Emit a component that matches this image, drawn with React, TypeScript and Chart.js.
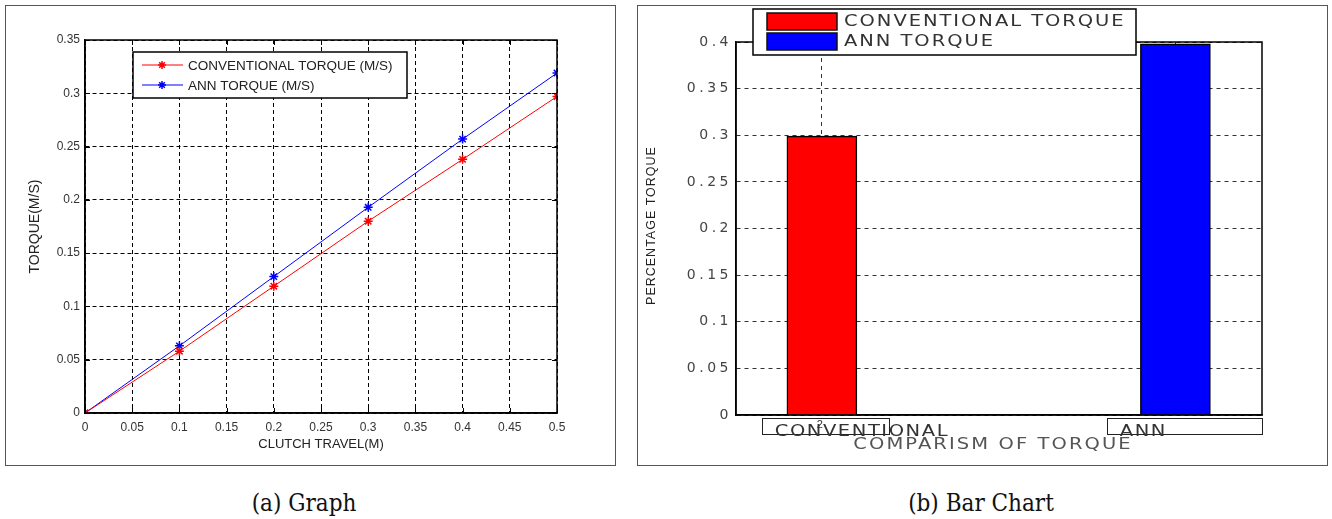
import React, { useEffect, useRef } from 'react';
import { Chart, registerables } from 'chart.js';

Chart.register(...registerables);

// ---------- (a) Graph data ----------
const clutchTravel = [0, 0.1, 0.2, 0.3, 0.4, 0.5];
const conventionalTorque = [0, 0.058, 0.119, 0.18, 0.238, 0.297];
const annTorque = [0, 0.063, 0.128, 0.193, 0.257, 0.319];
const lineSeriesLabels = ['CONVENTIONAL TORQUE (M/S)', 'ANN TORQUE (M/S)'];
const travelTicks = [0, 0.05, 0.1, 0.15, 0.2, 0.25, 0.3, 0.35, 0.4, 0.45, 0.5];
const torqueTicks = [0, 0.05, 0.1, 0.15, 0.2, 0.25, 0.3, 0.35];

// ---------- (b) Bar chart data ----------
const barCategories = ['CONVENTIONAL', 'ANN'];
const barValues = [0.299, 0.398];
const barSeriesLabels = ['CONVENTIONAL TORQUE', 'ANN TORQUE'];
const percentTicks = [0, 0.05, 0.1, 0.15, 0.2, 0.25, 0.3, 0.35, 0.4];
const barAxisTitles = ['COMPARISM OF TORQUE', 'PERCENTAGE TORQUE'];

const captions = ['(a) Graph', '(b) Bar Chart'];

const RED = '#ff0000';
const BLUE = '#0000ff';
const SANS = "'Liberation Sans', Arial, Helvetica, sans-serif";
const WIDE = "'DejaVu Sans', Verdana, sans-serif";

function fmt(v: number) {
  return String(Math.round(Number(v) * 100) / 100);
}

function drawStar(ctx: CanvasRenderingContext2D, x: number, y: number, r: number) {
  ctx.beginPath();
  for (let k = 0; k < 4; k++) {
    const ang = (k * Math.PI) / 4;
    ctx.moveTo(x - r * Math.cos(ang), y - r * Math.sin(ang));
    ctx.lineTo(x + r * Math.cos(ang), y + r * Math.sin(ang));
  }
  ctx.stroke();
}

// horizontally stretched text, like the stretched bitmap of the original figure
function wideText(ctx: CanvasRenderingContext2D, text: string, x: number, y: number, align: CanvasTextAlign, sx: number, ls: number) {
  ctx.save();
  ctx.translate(x, y);
  ctx.scale(sx, 1);
  (ctx as any).letterSpacing = `${ls}px`;
  ctx.textAlign = align;
  ctx.textBaseline = 'middle';
  ctx.fillText(text, 0, 0);
  ctx.restore();
}

const lineDecor = {
  id: 'lineDecor',
  afterDraw(chart: any) {
    const { ctx, chartArea: a, scales } = chart;
    const xs = scales.x;
    const ys = scales.y;
    ctx.save();
    ctx.setLineDash([]);
    ctx.strokeStyle = '#000';
    ctx.lineWidth = 1;
    ctx.beginPath();
    xs.ticks.forEach((t: any) => {
      const px = Math.round(xs.getPixelForValue(t.value)) + 0.5;
      ctx.moveTo(px, a.bottom);
      ctx.lineTo(px, a.bottom - 5);
      ctx.moveTo(px, a.top);
      ctx.lineTo(px, a.top + 5);
    });
    ys.ticks.forEach((t: any) => {
      const py = Math.round(ys.getPixelForValue(t.value)) + 0.5;
      ctx.moveTo(a.left, py);
      ctx.lineTo(a.left + 5, py);
      ctx.moveTo(a.right, py);
      ctx.lineTo(a.right - 5, py);
    });
    ctx.stroke();
    ctx.lineWidth = 1.5;
    ctx.strokeRect(Math.round(a.left), Math.round(a.top), Math.round(a.width), Math.round(a.height));

    // legend inside the plot
    const lx = Math.round(a.left) + 48;
    const ly = Math.round(a.top) + 12;
    const lw = 274;
    const lh = 46;
    ctx.fillStyle = '#fff';
    ctx.fillRect(lx, ly, lw, lh);
    ctx.lineWidth = 1.5;
    ctx.strokeStyle = '#000';
    ctx.strokeRect(lx, ly, lw, lh);
    chart.data.datasets.forEach((ds: any, i: number) => {
      const y = ly + 13 + i * 20;
      ctx.strokeStyle = ds.borderColor;
      ctx.lineWidth = 1;
      ctx.beginPath();
      ctx.moveTo(lx + 9, y);
      ctx.lineTo(lx + 50, y);
      ctx.stroke();
      ctx.lineWidth = 1.5;
      drawStar(ctx, lx + 29, y, 4);
      ctx.fillStyle = '#222';
      ctx.font = `13.5px ${SANS}`;
      ctx.textAlign = 'left';
      ctx.textBaseline = 'middle';
      ctx.fillText(ds.label, lx + 55, y + 1);
    });
    ctx.restore();
  },
};

const barDecor = {
  id: 'barDecor',
  beforeDraw(chart: any) {
    (chart.ctx as any).letterSpacing = '3.5px';
  },
  afterDraw(chart: any) {
    const { ctx, chartArea: a, scales } = chart;
    const xs = scales.x;
    ctx.save();
    ctx.setLineDash([]);
    ctx.strokeStyle = '#000';
    ctx.lineWidth = 1.5;
    ctx.strokeRect(Math.round(a.left), Math.round(a.top), Math.round(a.width), Math.round(a.height));

    // category labels (with the framed label boxes of the original)
    const boxSpans = [
      [-60, 67],
      [-68, 87],
    ];
    const textShift = [40, -32];
    barCategories.forEach((name, i) => {
      const px = xs.getPixelForValue(i + 1);
      ctx.lineWidth = 1;
      ctx.strokeStyle = '#222';
      ctx.strokeRect(Math.round(px + boxSpans[i][0]) + 0.5, Math.round(a.bottom) + 3.5, boxSpans[i][1] - boxSpans[i][0], 16);
      ctx.fillStyle = '#333';
      ctx.font = `15px ${WIDE}`;
      wideText(ctx, name, px + textShift[i], a.bottom + 17, 'center', 1.3, 1.2);
      if (i === 0) {
        ctx.font = `11px ${SANS}`;
        wideText(ctx, '2', px - 2, a.bottom + 10, 'center', 1, 0);
      }
    });

    // x axis title
    ctx.fillStyle = '#555';
    ctx.font = `15px ${WIDE}`;
    wideText(ctx, barAxisTitles[0], (a.left + a.right) / 2 - 6, a.bottom + 30, 'center', 1.3, 1.6);

    // y axis title
    ctx.save();
    ctx.translate(22, (a.top + a.bottom) / 2 - 3);
    ctx.rotate(-Math.PI / 2);
    ctx.font = `12.5px ${SANS}`;
    (ctx as any).letterSpacing = '1px';
    ctx.fillStyle = '#222';
    ctx.textAlign = 'center';
    ctx.textBaseline = 'middle';
    ctx.fillText(barAxisTitles[1], 0, 0);
    ctx.restore();

    // legend
    const lx = Math.round(a.left) + 17;
    const ly = Math.round(a.top) - 33;
    const lw = 383;
    const lh = 46;
    ctx.fillStyle = '#fff';
    ctx.fillRect(lx, ly, lw, lh);
    ctx.lineWidth = 1.5;
    ctx.strokeStyle = '#000';
    ctx.strokeRect(lx, ly, lw, lh);
    chart.data.datasets.forEach((ds: any, i: number) => {
      const sy = ly + 4 + i * 20;
      ctx.fillStyle = ds.backgroundColor;
      ctx.fillRect(lx + 14, sy, 70, 17);
      ctx.lineWidth = 1.5;
      ctx.strokeStyle = '#111';
      ctx.strokeRect(lx + 14, sy, 70, 17);
      ctx.fillStyle = '#333';
      ctx.font = `15px ${WIDE}`;
      wideText(ctx, ds.label, lx + 91, sy + 9, 'left', 1.3, 1.5);
    });
    ctx.restore();
  },
};

export default function App() {
  const leftRef = useRef<HTMLCanvasElement>(null);
  const rightRef = useRef<HTMLCanvasElement>(null);

  useEffect(() => {
    const lineChart = new Chart(leftRef.current as HTMLCanvasElement, {
      type: 'line',
      data: {
        datasets: [
          {
            label: lineSeriesLabels[0],
            data: clutchTravel.map((x, i) => ({ x, y: conventionalTorque[i] })),
            borderColor: RED,
            backgroundColor: RED,
            borderWidth: 1,
            pointStyle: 'star',
            pointRadius: 4.5,
            pointBorderWidth: 1.5,
            pointBorderColor: RED,
            fill: false,
          },
          {
            label: lineSeriesLabels[1],
            data: clutchTravel.map((x, i) => ({ x, y: annTorque[i] })),
            borderColor: BLUE,
            backgroundColor: BLUE,
            borderWidth: 1,
            pointStyle: 'star',
            pointRadius: 4.5,
            pointBorderWidth: 1.5,
            pointBorderColor: BLUE,
            fill: false,
          },
        ],
      },
      options: {
        animation: false,
        responsive: false,
        layout: { padding: { left: 0, top: 40, right: 68, bottom: 0 } },
        plugins: { legend: { display: false }, tooltip: { enabled: false } },
        scales: {
          x: {
            type: 'linear',
            min: 0,
            max: 0.5,
            afterBuildTicks: (s: any) => {
              s.ticks = travelTicks.map((v) => ({ value: v }));
            },
            afterFit: (s: any) => {
              s.height = 57;
            },
            ticks: {
              color: '#333',
              font: { size: 12, family: SANS },
              padding: 7,
              maxRotation: 0,
              autoSkip: false,
              callback: (v: any) => fmt(v),
            },
            grid: { color: '#000', lineWidth: 1, drawTicks: false },
            border: { display: true, color: '#000', width: 1.5, dash: [4, 3] },
            title: {
              display: true,
              text: 'CLUTCH TRAVEL(M)',
              color: '#222',
              font: { size: 13, family: SANS },
              padding: { top: 0, bottom: 18 },
            },
          },
          y: {
            type: 'linear',
            min: 0,
            max: 0.35,
            afterBuildTicks: (s: any) => {
              s.ticks = torqueTicks.map((v) => ({ value: v }));
            },
            afterFit: (s: any) => {
              s.width = 85;
            },
            ticks: {
              color: '#333',
              font: { size: 12, family: SANS },
              padding: 5,
              autoSkip: false,
              callback: (v: any) => fmt(v),
            },
            grid: { color: '#000', lineWidth: 1, drawTicks: false },
            border: { display: true, color: '#000', width: 1.5, dash: [4, 3] },
            title: {
              display: true,
              text: 'TORQUE(M/S)',
              color: '#222',
              font: { size: 14, family: SANS },
              padding: { top: 27, bottom: 0 },
            },
          },
        },
      },
      plugins: [lineDecor],
    } as any);

    const barChart = new Chart(rightRef.current as HTMLCanvasElement, {
      type: 'bar',
      data: {
        datasets: barSeriesLabels.map((label, i) => ({
          label,
          data: [{ x: i + 1, y: barValues[i] }],
          backgroundColor: i === 0 ? RED : BLUE,
          borderColor: '#000',
          borderWidth: 1.5,
          barThickness: 70,
          grouped: false,
        })),
      },
      options: {
        animation: false,
        responsive: false,
        layout: { padding: { left: 0, top: 42, right: 70, bottom: 0 } },
        plugins: { legend: { display: false }, tooltip: { enabled: false } },
        scales: {
          x: {
            type: 'linear',
            min: 0.757,
            max: 2.245,
            offset: false,
            afterBuildTicks: (s: any) => {
              s.ticks = barCategories.map((_, i) => ({ value: i + 1 }));
            },
            afterFit: (s: any) => {
              s.height = 55;
            },
            ticks: { display: false },
            grid: { color: '#333', lineWidth: 1, drawTicks: false, offset: false },
            border: { display: true, color: '#000', width: 1.5, dash: [4, 4] },
          },
          y: {
            type: 'linear',
            min: 0,
            max: 0.4,
            afterBuildTicks: (s: any) => {
              s.ticks = percentTicks.map((v) => ({ value: v }));
            },
            afterFit: (s: any) => {
              s.width = 106;
            },
            ticks: {
              color: '#444',
              font: { size: 14, family: WIDE },
              padding: 4,
              autoSkip: false,
              callback: (v: any) => fmt(v),
            },
            grid: { color: '#333', lineWidth: 1, drawTicks: false },
            border: { display: true, color: '#000', width: 1.5, dash: [4, 4] },
          },
        },
      },
      plugins: [barDecor],
    } as any);

    return () => {
      lineChart.destroy();
      barChart.destroy();
    };
  }, []);

  const captionStyle = (cx: number): React.CSSProperties => ({
    position: 'absolute',
    left: cx - 150,
    top: 489,
    width: 300,
    textAlign: 'center',
    fontFamily: "'DejaVu Serif Condensed', 'DejaVu Serif', serif",
    fontSize: 24,
    lineHeight: '28px',
    color: '#111',
  });

  return (
    <div style={{ position: 'absolute', left: 0, top: 0, width: 1332, height: 519, background: '#fff', overflow: 'hidden' }}>
      <canvas ref={leftRef} width={625} height={470} style={{ position: 'absolute', left: 0, top: 0, width: 625, height: 470 }} />
      <canvas ref={rightRef} width={702} height={470} style={{ position: 'absolute', left: 630, top: 0, width: 702, height: 470 }} />
      <div style={{ position: 'absolute', left: 5, top: 5, width: 609, height: 459, border: '1px solid #555', pointerEvents: 'none' }} />
      <div style={{ position: 'absolute', left: 637, top: 5, width: 689, height: 459, border: '1px solid #555', pointerEvents: 'none' }} />
      <div style={captionStyle(304)}>{captions[0]}</div>
      <div style={captionStyle(981)}>{captions[1]}</div>
    </div>
  );
}
